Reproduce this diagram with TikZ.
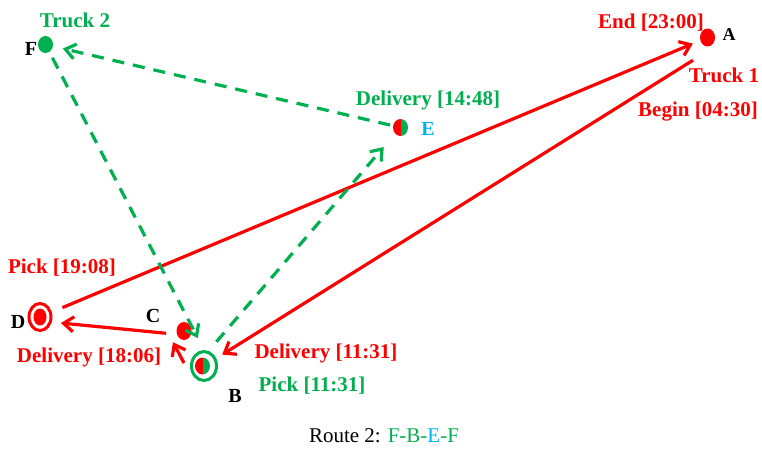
\documentclass[tikz,border=0pt]{standalone}
\usepackage{fontspec}
\setmainfont{Liberation Serif}
\usetikzlibrary{arrows.meta,shapes.geometric}
\definecolor{tred}{RGB}{255,0,0}
\definecolor{tgreen}{RGB}{0,176,80}
\definecolor{tblue}{RGB}{0,176,240}
\begin{document}
\begin{tikzpicture}[x=1pt,y=-1pt,
  dot/.style={ellipse, fill=#1, inner sep=0pt, minimum width=15pt, minimum height=18pt},
  halfdot/.style={ellipse, inner sep=0pt, minimum width=15pt, minimum height=17pt,
    path picture={
      \fill[tred] (path picture bounding box.south west) rectangle (path picture bounding box.north);
      \fill[tgreen] (path picture bounding box.south) rectangle (path picture bounding box.north east);}},
  ringdot/.style={ellipse, draw=tred, line width=3pt, inner sep=0pt, minimum width=22pt, minimum height=27pt,
    path picture={\fill[tred] (path picture bounding box.center) ellipse [x radius=6.5pt, y radius=8.5pt];}},
  ringhalf/.style={ellipse, draw=tgreen, line width=3pt, inner sep=0pt, minimum width=25pt, minimum height=29pt,
    path picture={
      \clip ([xshift=-1.5pt]path picture bounding box.center) ellipse [x radius=7.5pt, y radius=8.5pt];
      \fill[tred] (path picture bounding box.south west) rectangle ([xshift=-1.5pt]path picture bounding box.north);
      \fill[tgreen] ([xshift=-1.5pt]path picture bounding box.south) rectangle (path picture bounding box.north east);}},
  lbl/.style={font=\bfseries\fontsize{21}{24}\selectfont, anchor=base, inner sep=0pt},
  letter/.style={font=\bfseries\fontsize{20}{24}\selectfont, anchor=base, inner sep=0pt, black},
  tip/.style={-{Straight Barb[length=10pt,width=15pt]}},
  redarrow/.style={draw=tred, line width=3.2pt, tip},
  greenarrow/.style={draw=tgreen, line width=3.2pt, dash pattern=on 12pt off 9pt, tip}
]
\path[use as bounding box] (0,0) rectangle (762,448);

% stops
\node[dot=tred] (A) at (707.5,37.5) {};
\node[dot=tgreen, minimum height=17pt] (F) at (45.5,44.5) {};
\node[halfdot] (E) at (400.5,127.5) {};
\node[dot=tred] (C) at (184,331) {};
\node[ringdot] (D) at (40,317) {};
\node[ringhalf] (B) at (204,366) {};

% stop letters
\node[letter, font=\bfseries\fontsize{18}{22}\selectfont] (lA) at (729,40) {A};
\node[letter] (lB) at (235,402) {B};
\node[letter] (lC) at (153,322) {C};
\node[letter] (lD) at (18,328) {D};
\node[letter] (lF) at (31,55) {F};
\node[letter, tblue] (lE) at (428,135) {E};

% time labels
\node[lbl, tgreen] (t2) at (75,27) {Truck 2};
\node[lbl, tred] (tend) at (651,28) {End [23:00]};
\node[lbl, tred] (t1) at (724,82) {Truck 1};
\node[lbl, tred] (tbeg) at (698,116) {Begin [04:30]};
\node[lbl, tgreen] (tdE) at (428,105) {Delivery [14:48]};
\node[lbl, tred] (tpD) at (62,273) {Pick [19:08]};
\node[lbl, tred] (tdC) at (89,362) {Delivery [18:06]};
\node[lbl, tred] (tdB) at (326,358) {Delivery [11:31]};
\node[lbl, tgreen] (tpB) at (312,391) {Pick [11:31]};

% truck 1 route
\draw[redarrow, shorten >=7pt] ([xshift=-14.5pt,yshift=-13.5pt]A.south) -- (B);
\draw[redarrow] ([xshift=-6pt,yshift=3pt]B.west) -- ([xshift=-11pt,yshift=-2pt]C.south);
\draw[redarrow, shorten <=18pt, shorten >=21pt] ([yshift=-4pt]C.center) -- ([yshift=-4pt]D.center);
\draw[redarrow, shorten <=11.5pt, shorten >=8pt] (D) -- (A);

% truck 2 route
\draw[greenarrow, shorten <=6.5pt, shorten >=13.5pt] (F) -- (B.north);
\draw[greenarrow, shorten <=12pt, shorten >=17.5pt] (B.73) -- (E);
\draw[greenarrow, shorten <=3pt, shorten >=10pt] (E) -- (F);

% caption
\node[font=\fontsize{21}{24}\selectfont, anchor=base, inner sep=0pt] (cap) at (384,442)
  {Route 2: \textcolor{tgreen}{F-B-}\textcolor{tblue}{E}\textcolor{tgreen}{-F}};
\end{tikzpicture}
\end{document}
